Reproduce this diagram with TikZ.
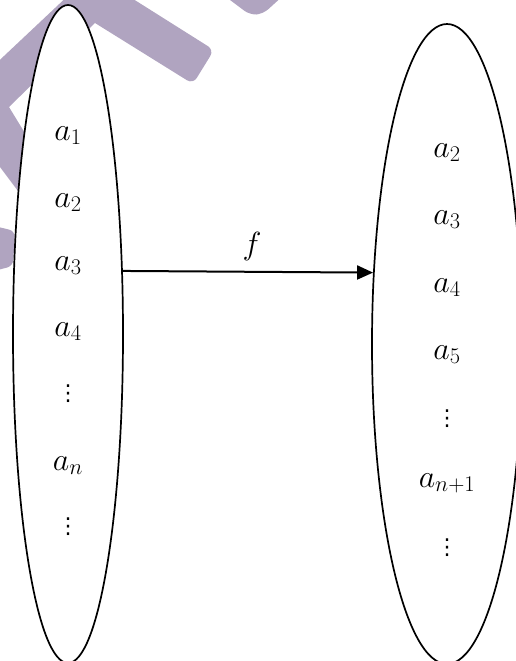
\RequirePackage{fix-cm}
\documentclass[tikz,border=0pt]{standalone}
\usepackage{fontspec}
\newfontfamily\dotfont{DejaVu Sans}
\usetikzlibrary{arrows.meta,shapes.geometric}
\definecolor{wmark}{RGB}{176,164,192}
\begin{document}
\begin{tikzpicture}[x=1pt,y=-1pt,
  lbl/.style={font=\fontsize{32}{38}\selectfont, inner sep=0pt, anchor=base},
  dotlbl/.style={font=\dotfont\fontsize{22}{26}\selectfont, inner sep=0pt, anchor=center},
  setshape/.style={draw, ellipse, line width=1.7pt, fill=white, inner sep=0pt}]
\useasboundingbox (0,0) rectangle (516,661);
\clip (0,0) rectangle (516,661);
% watermark
\fill[wmark] (-30,88) -- (72,-8) -- (122,-8) [rounded corners=7pt]-- (214,50) -- (193,84) [sharp corners]-- (95,23) -- (9,107) -- (45,166) -- (30,207) -- (-30,127) -- cycle;
\fill[wmark, rounded corners=6pt] (-10,225) -- (15,231) -- (13,266) -- (-10,272) -- cycle;
\fill[wmark, rounded corners=7pt] (222,-6) -- (250,15) -- (263,14) -- (285,-6) -- cycle;
% sets
\node[setshape, minimum width=110pt, minimum height=658pt] (L) at (68,334) {};
\node[setshape, minimum width=150pt, minimum height=640pt] (R) at (447,344) {};
% left labels
\node[lbl] (l1) at (68,140) {$a_1$};
\node[lbl] (l2) at (68,207) {$a_2$};
\node[lbl] (l3) at (68,270) {$a_3$};
\node[lbl] (l4) at (68,336) {$a_4$};
\node[dotlbl] (l5) at (68,394) {⋮};
\node[lbl] (l6) at (68,470) {$a_n$};
\node[dotlbl] (l7) at (68,527) {⋮};
% right labels
\node[lbl] (r1) at (447,157) {$a_2$};
\node[lbl] (r2) at (447,224) {$a_3$};
\node[lbl] (r3) at (447,292) {$a_4$};
\node[lbl] (r4) at (447,359) {$a_5$};
\node[dotlbl] (r5) at (447,419) {⋮};
\node[lbl] (r6) at (447,487) {$a_{n+1}$};
\node[dotlbl] (r7) at (447,548) {⋮};
% map
\draw[line width=2pt, -{Triangle[length=16pt,width=14pt]}] (L.49) -- (R.136.6);
\node[lbl] (f) at (252,254) {$f$};
\end{tikzpicture}
\end{document}
